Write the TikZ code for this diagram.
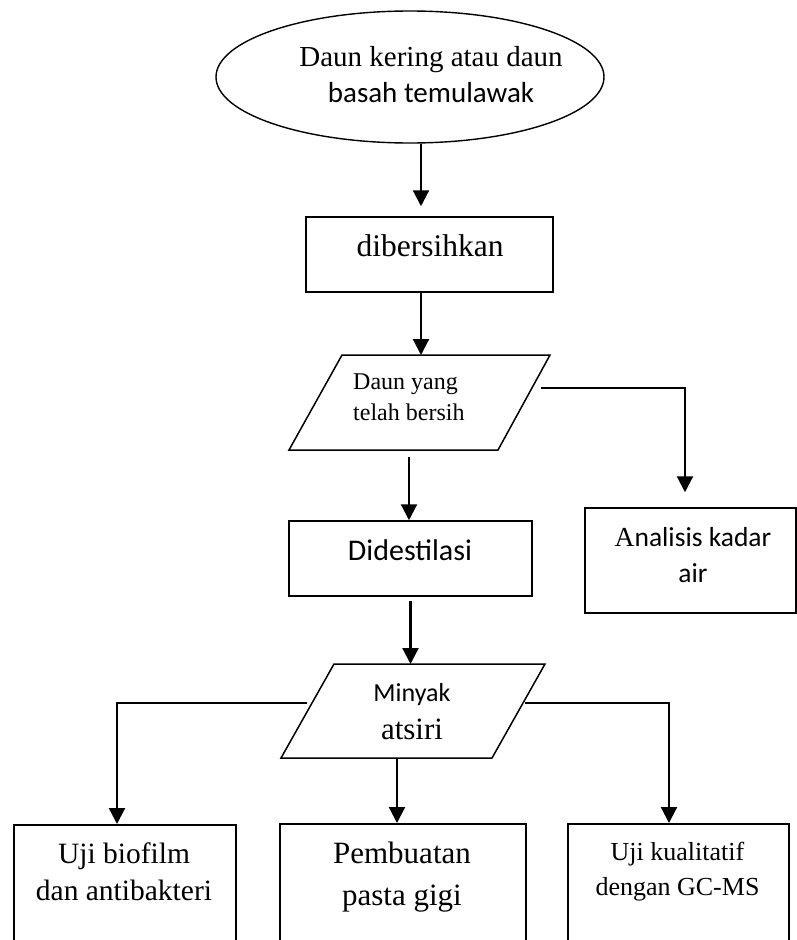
\documentclass[tikz,border=0pt]{standalone}
\usepackage{fontspec}
\setmainfont{Liberation Serif}
\newfontfamily\calibf{Carlito}
\usetikzlibrary{arrows.meta,shapes.geometric}
\begin{document}
\begin{tikzpicture}[x=1pt,y=-1pt,
  conn/.style={line width=2.2pt},
  arr/.style={conn,-{Triangle[width=16pt,length=16pt]}},
  boxst/.style={draw,line width=1.5pt,rectangle,inner sep=0pt},
  outl/.style={draw,line width=1.5pt,line join=miter},
  txt/.style={inner sep=0pt,align=center}]
\useasboundingbox (0,0) rectangle (797,940);
\clip (0,0) rectangle (797,940);

% start ellipse
\node[ellipse,draw,line width=1.4pt,minimum width=388pt,minimum height=132pt,inner sep=0pt] (start) at (410,77) {};
\node[txt,font=\fontsize{29}{36}\selectfont] (tstart) at (431,75) {Daun kering atau daun\\\calibf basah temulawak};

% dibersihkan
\node[boxst,minimum width=247pt,minimum height=75pt] (dib) at (429.5,254.5) {};
\node[txt,font=\fontsize{31.5}{38}\selectfont] (tdib) at (430,246) {dibersihkan};

% parallelogram 1
\coordinate (p1a) at (342,355);
\coordinate (p1b) at (550,355);
\coordinate (p1c) at (498,450);
\coordinate (p1d) at (289,450);
\draw[outl] (p1a) -- (p1b) -- (p1c) -- (p1d) -- cycle;
\node[txt,align=left,anchor=west,font=\fontsize{24}{31}\selectfont] (tp1) at (353,397) {Daun yang\\telah bersih};

% Analisis kadar air
\node[boxst,minimum width=211pt,minimum height=105pt] (ana) at (690.5,560.5) {};
\node[txt,font=\calibf\fontsize{27.5}{36}\selectfont] (tana) at (693,555.5) {{\rmfamily A}nalisis kadar\\air};

% Didestilasi
\node[boxst,minimum width=243pt,minimum height=75pt] (dist) at (410.5,558.5) {};
\node[txt,font=\calibf\fontsize{30}{36}\selectfont] (tdist) at (410,550.5) {Didestilasi};

% parallelogram 2
\coordinate (p2a) at (334,664);
\coordinate (p2b) at (545,664);
\coordinate (p2c) at (492,758);
\coordinate (p2d) at (281,758);
\draw[outl] (p2a) -- (p2b) -- (p2c) -- (p2d) -- cycle;
\node[txt,font=\fontsize{31}{38}\selectfont] (tp2) at (412,712) {{\calibf\fontsize{26}{38}\selectfont Minyak}\\atsiri};

% bottom boxes (cut off at the bottom edge)
\node[boxst,anchor=north,minimum width=222pt,minimum height=160pt] (bL) at (125,824) {};
\node[boxst,anchor=north,minimum width=246pt,minimum height=160pt] (bM) at (403,823) {};
\node[boxst,anchor=north,minimum width=221pt,minimum height=160pt] (bR) at (678.5,823) {};
\node[txt,font=\fontsize{29.5}{37}\selectfont] (tL) at (124,871.5) {Uji biofilm\\dan antibakteri};
\node[txt,font=\fontsize{31}{42}\selectfont] (tM) at (402,877) {Pembuatan\\pasta gigi};
\node[txt,font=\fontsize{26}{35}\selectfont] (tR) at (677.5,871.5) {Uji kualitatif\\dengan GC-MS};

% connector free ends
\coordinate (p1r) at (541,388);
\coordinate (p1s) at (409,457);
\coordinate (p2l) at (307,703);
\coordinate (p2r) at (525,703);
\coordinate (p2m) at (397,758);

% connectors
\draw[arr] ([xshift=11pt]start.south) -- ([xshift=-8.5pt,yshift=10pt]dib.north);
\draw[arr] ([xshift=-8.5pt]dib.south) -- ([xshift=-8.5pt]dib.south |- p1a);
\draw[arr] (p1r) -| ([xshift=-5.5pt,yshift=15pt]ana.north);
\draw[arr] (p1s) -- (p1s |- dist.north);
\draw[arr] ([yshift=-4pt]dist.south) -- (dist.south |- p2a);
\draw[arr] (p2l) -| ([xshift=-8pt]bL.north);
\draw[arr] (p2m) -- (p2m |- bM.north);
\draw[arr] (p2r) -| ([xshift=-9.5pt]bR.north);
\end{tikzpicture}
\end{document}
